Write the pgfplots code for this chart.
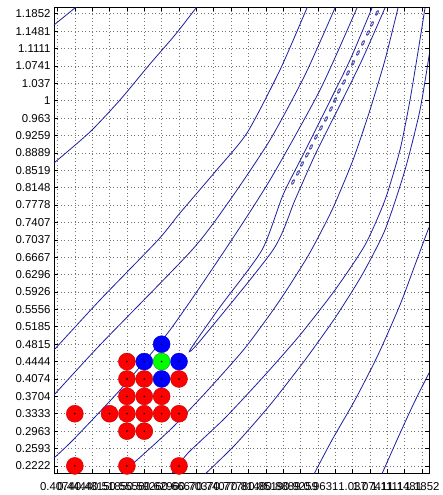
\documentclass[border=0pt]{standalone}
\usepackage{pgfplots}
\pgfplotsset{compat=1.18}
\usepackage{fontspec}
\setmainfont{Liberation Sans}
\definecolor{cl}{RGB}{30,30,160}
\pgfdeclareplotmark{ell}{\pgfpathellipse{\pgfpointorigin}{\pgfpoint{1.1pt}{2.3pt}}{\pgfpoint{-0.9pt}{0.45pt}}\pgfusepathqstroke}
\begin{document}
\begin{tikzpicture}
\begin{axis}[name=ax, scale only axis, width=375pt, height=466pt,
  xmin=0.4, xmax=1.2, ymin=0.2065, ymax=1.199,
  clip mode=individual,
  axis line style={line width=0.8pt},
  major tick length=4pt, tick style={line width=0.6pt, black},
  grid=major, grid style={dash pattern=on 0.7pt off 2.8pt, black!55, line width=0.6pt},
  font=\fontsize{11.4}{12}\selectfont,
  xticklabel style={yshift=-6pt},
  xtick={0.407407,0.444444,0.481481,0.518519,0.555556,0.592593,0.629630,0.666667,0.703704,0.740741,0.777778,0.814815,0.851852,0.888889,0.925926,0.962963,1,1.037037,1.074074,1.111111,1.148148,1.185185},
  xticklabels={0.4074,0.4444,0.4815,0.5185,0.5556,0.5926,0.6296,0.6667,0.7037,0.7407,0.7778,0.8148,0.8519,0.8889,0.9259,0.963,1,1.037,1.0741,1.1111,1.1481,1.1852},
  ytick={0.222222,0.259259,0.296296,0.333333,0.370370,0.407407,0.444444,0.481481,0.518519,0.555556,0.592593,0.629630,0.666667,0.703704,0.740741,0.777778,0.814815,0.851852,0.888889,0.925926,0.962963,1,1.037037,1.074074,1.111111,1.148148,1.185185},
  yticklabels={0.2222,0.2593,0.2963,0.3333,0.3704,0.4074,0.4444,0.4815,0.5185,0.5556,0.5926,0.6296,0.6667,0.7037,0.7407,0.7778,0.8148,0.8519,0.8889,0.9259,0.963,1,1.037,1.0741,1.1111,1.1481,1.1852},
]
% contour lines
\addplot[cl, line width=0.8pt, smooth, tension=0.4] coordinates {(0.39,1.153)(0.4,1.1613)(0.4448,1.1976)(0.455,1.205)};
\addplot[cl, line width=0.8pt, smooth, tension=0.4] coordinates {(0.4,0.8674)(0.4768,0.9335)(0.5408,1.0016)(0.6048,1.0783)(0.6581,1.1400)(0.7029,1.1976)(0.71,1.21)};
\addplot[cl, line width=0.8pt, smooth, tension=0.4] coordinates {(0.4,0.4691)(0.4981,0.5756)(0.6219,0.7034)(0.6688,0.7609)(0.7435,0.8483)(0.8117,0.9313)(0.8821,1.0655)(0.9397,1.1976)(0.945,1.21)};
\addplot[cl, line width=0.8pt, smooth, tension=0.4] coordinates {(0.4,0.3733)(0.4981,0.4798)(0.6944,0.6821)(0.7755,0.7886)(0.8608,0.9164)(0.9355,1.0549)(0.9995,1.1976)(1.005,1.21)};
\addplot[cl, line width=0.8pt, smooth, tension=0.4] coordinates {(0.4,0.2391)(0.4405,0.2774)(0.5408,0.3839)(0.6475,0.5117)(0.7648,0.6821)(0.8608,0.8312)(0.9675,1.0229)(1.0464,1.1976)(1.052,1.21)};
\addplot[cl, line width=0.8pt, smooth, tension=0.4] coordinates {(1.0784,1.1976)(1.0315,1.0868)(0.9845,0.9910)(0.9312,0.8845)(0.8885,0.7993)(0.8437,0.6821)(0.7541,0.5607)(0.6901,0.4691)(0.7115,0.4883)(0.8672,0.6821)(0.9141,0.7886)(0.9568,0.8845)(1.0101,0.9910)(1.0571,1.0868)(1.1061,1.1976)};
\addplot[cl, line width=0.8pt, smooth, tension=0.4] coordinates {(0.5365,0.2007)(0.5771,0.2348)(0.6517,0.3030)(0.7285,0.3839)(0.8075,0.4733)(0.8779,0.5692)(0.9419,0.6693)(0.9931,0.7673)(1.0379,0.8738)(1.0741,0.9803)(1.1061,1.0868)(1.1339,1.1976)};
\addplot[cl, line width=0.8pt, smooth, tension=0.4] coordinates {(0.6475,0.2007)(0.6859,0.2497)(0.7648,0.3243)(0.8501,0.4158)(0.9248,0.5010)(0.9995,0.5969)(1.0635,0.6927)(1.1061,0.7886)(1.1381,0.8951)(1.1595,1.0016)(1.1765,1.1038)(1.1915,1.1976)};
\addplot[cl, line width=0.8pt, smooth, tension=0.4] coordinates {(0.7179,0.2007)(0.7861,0.2668)(0.8608,0.3520)(0.9355,0.4478)(0.9995,0.5373)(1.0571,0.6289)(1.1061,0.7247)(1.1488,0.8525)(1.1808,0.9803)(1.2021,1.1081)};
\addplot[cl, line width=0.8pt, smooth, tension=0.4] coordinates {(0.9525,0.2007)(0.9931,0.2774)(1.0421,0.3626)(1.0912,0.4585)(1.1381,0.5650)(1.1701,0.6502)(1.1979,0.7247)(1.2064,0.7418)};
\addplot[cl, line width=0.8pt, smooth, tension=0.4] coordinates {(1.0976,0.2007)(1.1317,0.2774)(1.1659,0.3520)(1.1979,0.4159)(1.2064,0.4308)};
% small closed contours along the ridge
\addplot[cl, only marks, mark=ell, mark options={line width=0.7pt}] coordinates {
(0.9099,0.8269)(0.9205,0.8461)(0.9291,0.8653)(0.9397,0.8845)(0.9483,0.9015)(0.9589,0.9228)(0.9696,0.9420)(0.9803,0.9611)(0.9909,0.9824)(0.9995,1.0016)(1.0080,1.0208)(1.0187,1.0399)(1.0272,1.0591)(1.0379,1.0804)(1.0485,1.1017)(1.0592,1.1230)(1.0699,1.1443)(1.0784,1.1635)(1.0891,1.1869)};
% points
\addplot[only marks, mark=*, mark size=8.5pt, mark options={fill=red, draw=red!75!black, line width=0.4pt}] coordinates {
(0.555556,0.444444)
(0.555556,0.407407)(0.592593,0.407407)(0.666667,0.407407)
(0.555556,0.370370)(0.592593,0.370370)(0.629630,0.370370)
(0.444444,0.333333)(0.518519,0.333333)(0.555556,0.333333)(0.592593,0.333333)(0.629630,0.333333)(0.666667,0.333333)
(0.555556,0.296296)(0.592593,0.296296)
(0.444444,0.222222)(0.555556,0.222222)(0.666667,0.222222)};
\addplot[only marks, mark=*, mark size=8.5pt, mark options={fill=blue, draw=blue!75!black, line width=0.4pt}] coordinates {
(0.629630,0.481481)(0.592593,0.444444)(0.666667,0.444444)(0.629630,0.407407)};
\addplot[only marks, mark=*, mark size=8.5pt, mark options={fill=green, draw=green!60!black, line width=0.4pt}] coordinates {
(0.629630,0.444444)};
\addplot[only marks, mark=*, mark size=0.6pt, mark options={fill=black!70, draw=none}] coordinates {
(0.555556,0.444444)
(0.555556,0.407407)(0.592593,0.407407)(0.666667,0.407407)
(0.555556,0.370370)(0.592593,0.370370)(0.629630,0.370370)
(0.444444,0.333333)(0.518519,0.333333)(0.555556,0.333333)(0.592593,0.333333)(0.629630,0.333333)(0.666667,0.333333)
(0.555556,0.296296)(0.592593,0.296296)
(0.444444,0.222222)(0.555556,0.222222)(0.666667,0.222222)
(0.629630,0.481481)(0.592593,0.444444)(0.666667,0.444444)(0.629630,0.407407)(0.629630,0.444444)};
\end{axis}
\pgfresetboundingbox
\path[use as bounding box] ([xshift=-54pt,yshift=-21.7pt]ax.south west) rectangle ([xshift=14pt,yshift=7.3pt]ax.north east);
\end{tikzpicture}
\end{document}
